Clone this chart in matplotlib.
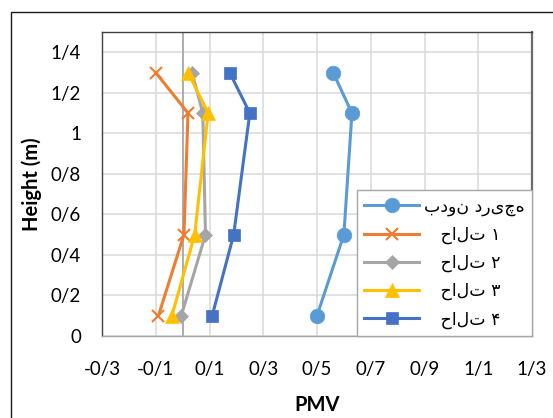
import numpy as np
import matplotlib.pyplot as plt
from matplotlib.patches import Rectangle

# data (height in m, PMV)
heights = [0.1, 0.5, 1.1, 1.3]
pmv_no_vent = [0.50, 0.60, 0.63, 0.56]
pmv_case1 = [-0.09, 0.005, 0.02, -0.10]
pmv_case2 = [-0.005, 0.085, 0.075, 0.035]
pmv_case3 = [-0.04, 0.045, 0.095, 0.02]
pmv_case4 = [0.11, 0.19, 0.25, 0.175]

# legend labels (LRM keeps the number on the right, as in the original)
labels = ['بدون دریچه',
          '   حالت\u200e ۱',
          '   حالت\u200e ۲',
          '   حالت\u200e ۳',
          '   حالت\u200e ۴']

x_ticks = [-0.3, -0.1, 0.1, 0.3, 0.5, 0.7, 0.9, 1.1, 1.3]
x_tick_labels = ['-0/3', '-0/1', '0/1', '0/3', '0/5', '0/7', '0/9', '1/1', '1/3']
y_ticks = [0, 0.2, 0.4, 0.6, 0.8, 1.0, 1.2, 1.4]
y_tick_labels = ['0', '0/2', '0/4', '0/6', '0/8', '1', '1/2', '1/4']

plt.rcParams['font.family'] = ['Lato', 'DejaVu Sans']

W, H = 553, 418
fig = plt.figure(figsize=(W / 100, H / 100), dpi=100)
ax = fig.add_axes([102 / W, 1 - 336 / H, (532 - 102) / W, (336 - 32) / H])

# outer chart border (runs off the right/bottom of the image)
fig.patches.append(Rectangle((10.5 / W, -0.1), 1.2, 1 - 11.5 / H + 0.1,
                             transform=fig.transFigure, fill=False,
                             edgecolor='#1a1a1a', lw=1.0, clip_on=False))

series = [pmv_no_vent, pmv_case1, pmv_case2, pmv_case3, pmv_case4]
colors = ['#5B9BD5', '#ED7D31', '#A5A5A5', '#FFC000', '#4472C4']
markers = ['o', 'x', 'D', '^', 's']
msizes = [10.5, 8, 7, 10, 9]

for vals, lab, c, m, ms in zip(series, labels, colors, markers, msizes):
    ax.plot(vals, heights, color=c, lw=2.2, marker=m, markersize=ms,
            markeredgewidth=1.5 if m == 'x' else 0.5, label=lab, zorder=3)

ax.set_xlim(-0.3, 1.3)
ax.set_ylim(0, 1.5)
ax.set_xticks(x_ticks)
ax.set_xticklabels(x_tick_labels)
ax.set_yticks(y_ticks)
ax.set_yticklabels(y_tick_labels)
ax.tick_params(axis='both', length=0, labelsize=13.5, colors='#000000')
ax.tick_params(axis='x', pad=18)
ax.tick_params(axis='y', pad=15)

ax.grid(True, color='#D9D9D9', lw=1.1)
ax.set_axisbelow(True)
ax.axvline(0, color='#A6A6A6', lw=1.3, zorder=1.5)

for s in ax.spines.values():
    s.set_color('#404040')
    s.set_linewidth(1.0)
ax.spines['bottom'].set_color('#A6A6A6')
ax.spines['right'].set_color('#6b6b6b')
ax.spines['right'].set_linewidth(1.6)

ax.set_xlabel('PMV', fontsize=14.5, fontweight='bold')
ax.xaxis.set_label_coords(0.5, -0.194)
ax.set_ylabel('Height (m)', fontsize=14.5, fontweight='bold')
ax.yaxis.set_label_coords(-0.139, 0.5)

leg = ax.legend(loc='lower right', bbox_to_anchor=(1.0, 0.0), borderaxespad=0,
                prop={'family': ['DejaVu Sans'], 'size': 12.5},
                handlelength=3.15, handletextpad=0.3, labelspacing=0.57,
                borderpad=0.42, fancybox=False, framealpha=1)
leg.get_frame().set_edgecolor('#A6A6A6')
leg.get_frame().set_linewidth(1.0)

fig.savefig('out.png', dpi=100)
